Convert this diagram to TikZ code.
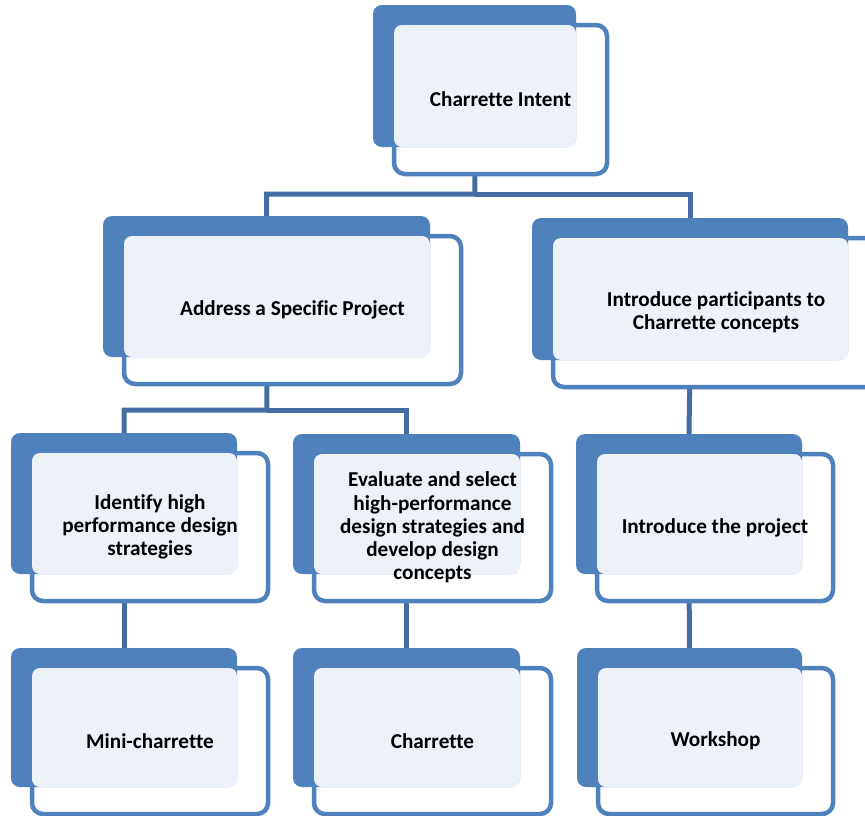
\documentclass[tikz,border=0pt]{standalone}
\usepackage{fontspec}
\setmainfont{Carlito}[Ligatures=NoCommon]
\usetikzlibrary{positioning, backgrounds}
\definecolor{charBlue}{RGB}{79,129,189}
\definecolor{charPale}{RGB}{237,242,249}
\definecolor{charLine}{RGB}{68,110,162}

% one box of the chart: name, x, y (top left of the dark box), width, height, text
\newcommand{\orgbox}[6]{%
  \node[front, minimum width=#4pt+10pt, minimum height=#5pt+7pt] (#1) at (#2+21,#3+20) {};
  \node[back, minimum width=#4pt, minimum height=#5pt] (#1B) at (#2,#3) {};
  \fill[charPale, rounded corners=8pt] (#1.north west) rectangle (#1B.south east);
  \node[boxtext] (#1T) at (#1) {#6};
}

\begin{document}
\begin{tikzpicture}[x=1pt, y=-1pt,
back/.style={rectangle, rounded corners=9pt, fill=charBlue, anchor=north west,
inner sep=0pt, outer sep=0pt},
front/.style={rectangle, rounded corners=11pt, draw=charBlue, line width=4.5pt,
fill=white, anchor=north west, inner sep=0pt, outer sep=0pt},
boxtext/.style={align=center, inner sep=0pt,
font=\bfseries\fontsize{21.2}{23.2}\selectfont},
link/.style={line width=5pt, color=charLine}]

\useasboundingbox (0,0) rectangle (865,815);

\orgbox{intent}{373}{5}{203}{142}{Charrette Intent}
\orgbox{address}{103}{216}{327}{141}{Address a Specific Project}
\orgbox{parts}{532}{218}{316}{142}{Introduce participants to\\Charrette concepts}
\orgbox{ident}{11}{433}{226}{141}{Identify high\\performance design\\strategies}
\orgbox{eval}{293}{434}{227}{140}{Evaluate and select\\high-performance\\design strategies and\\develop design\\concepts}
\orgbox{project}{576}{434}{226}{140}{Introduce the project}
\orgbox{mini}{11}{648}{226}{139}{Mini-charrette}
\orgbox{char}{293}{648}{227}{139}{Charrette}
\orgbox{work}{577}{648}{225}{139}{Workshop}

\coordinate (split1) at (475,194);
\coordinate (split2) at (267,410);

\begin{scope}[on background layer]
\draw[link] (intentB.south) -- (split1) -| (addressB.north);
\draw[link] (split1) -| (partsB.north);
\draw[link] (addressB.south) -- (split2) -| (identB.north);
\draw[link] (split2) -| (evalB.north);
\draw[link] (partsB.south) -- (projectB.north);
\draw[link] (identB.south) -- (miniB.north);
\draw[link] (evalB.south) -- (charB.north);
\draw[link] (projectB.south) -- (workB.north);
\end{scope}
\end{tikzpicture}
\end{document}
